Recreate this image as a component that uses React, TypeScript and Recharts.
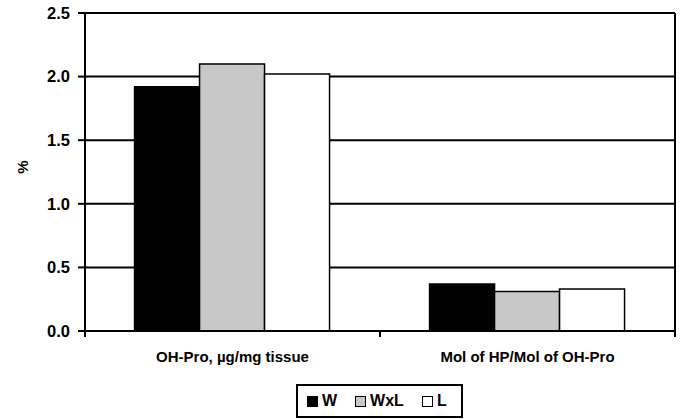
import { BarChart, Bar, XAxis, YAxis, CartesianGrid, Legend } from 'recharts';

const categories = ['OH-Pro, \u00b5g/mg tissue', 'Mol of HP/Mol of OH-Pro'];
const wValues = [1.92, 0.37];
const wxlValues = [2.1, 0.31];
const lValues = [2.02, 0.33];
const yTicks = [0, 0.5, 1.0, 1.5, 2.0, 2.5];

const SERIES = [
  { key: 'W', fill: '#000000' },
  { key: 'WxL', fill: '#c8c8c8' },
  { key: 'L', fill: '#ffffff' },
];

const FONT = '"Liberation Sans", Arial, sans-serif';

const chartData = categories.map((name, i) => ({
  name,
  W: wValues[i],
  WxL: wxlValues[i],
  L: lValues[i],
}));

// category axis: label under the band, tick marks on the band edges
function CategoryTick(props: any) {
  const { x, y, payload, index, width, visibleTicksCount } = props;
  const half = width / visibleTicksCount / 2;
  const axisY = y - 8;
  return (
    <g>
      <line x1={x - half} x2={x - half} y1={axisY} y2={axisY + 6} stroke="#000" strokeWidth={2} />
      {index === visibleTicksCount - 1 && (
        <line x1={x + half} x2={x + half} y1={axisY} y2={axisY + 6} stroke="#000" strokeWidth={2} />
      )}
      <text
        x={x}
        y={y + 18}
        dy="0.355em"
        textAnchor="middle"
        fontFamily={FONT}
        fontWeight="bold"
        fontSize={15}
        fill="#000"
      >
        {payload.value}
      </text>
    </g>
  );
}

function LegendBox() {
  return (
    <div
      style={{
        display: 'flex',
        alignItems: 'center',
        border: '2px solid #000',
        height: 30,
        padding: '0 14px 0 9px',
        fontFamily: FONT,
        fontWeight: 'bold',
        fontSize: 16,
        color: '#000',
        background: '#fff',
        boxSizing: 'content-box',
      }}
    >
      {SERIES.map((s, i) => (
        <div key={s.key} style={{ display: 'flex', alignItems: 'center', marginLeft: i === 0 ? 0 : 18 }}>
          <span
            style={{
              display: 'inline-block',
              width: 9,
              height: 9,
              background: s.fill,
              border: '1px solid #000',
              marginRight: 4,
            }}
          />
          <span>{s.key}</span>
        </div>
      ))}
    </div>
  );
}

export default function App() {
  return (
    <div style={{ position: 'absolute', left: 0, top: 0, width: 680, height: 419, background: '#fff' }}>
      <BarChart
        width={680}
        height={419}
        data={chartData}
        margin={{ top: 13, right: 0, left: 0, bottom: 48 }}
        barCategoryGap="16.8%"
        barGap={0}
      >
        <CartesianGrid horizontal vertical={false} stroke="#000" strokeWidth={2} />
        <XAxis
          dataKey="name"
          height={40}
          axisLine={{ stroke: '#000', strokeWidth: 2 }}
          tickLine={false}
          tickSize={6}
          tickMargin={2}
          interval={0}
          tick={<CategoryTick />}
        />
        <YAxis
          width={85}
          domain={[0, 2.5]}
          ticks={yTicks}
          tickFormatter={(v) => Number(v).toFixed(1)}
          axisLine={{ stroke: '#000', strokeWidth: 2 }}
          tickLine={{ stroke: '#000', strokeWidth: 2 }}
          tickSize={7}
          tickMargin={8}
          tick={{ fill: '#000', fontSize: 16.5, fontWeight: 'bold', fontFamily: FONT }}
          label={{
            content: (p: any) => (
              <text
                x={p.viewBox.x + 23}
                y={p.viewBox.y + p.viewBox.height / 2 - 5}
                transform={`rotate(-90, ${p.viewBox.x + 23}, ${p.viewBox.y + p.viewBox.height / 2 - 5})`}
                textAnchor="middle"
                dy="0.355em"
                fontFamily={FONT}
                fontWeight="bold"
                fontSize={15}
                fill="#000"
              >
                %
              </text>
            ),
          }}
        />
        <YAxis
          yAxisId="right"
          orientation="right"
          width={5}
          domain={[0, 2.5]}
          tick={false}
          tickLine={false}
          axisLine={{ stroke: '#000', strokeWidth: 2 }}
        />
        <Legend
          verticalAlign="middle"
          align="center"
          content={() => <LegendBox />}
          wrapperStyle={{ position: 'absolute', left: 296, top: 384, width: 'auto' }}
        />
        {SERIES.map((s) => (
          <Bar
            key={s.key}
            dataKey={s.key}
            fill={s.fill}
            stroke="#000"
            strokeWidth={1.5}
            isAnimationActive={false}
          />
        ))}
      </BarChart>
    </div>
  );
}
